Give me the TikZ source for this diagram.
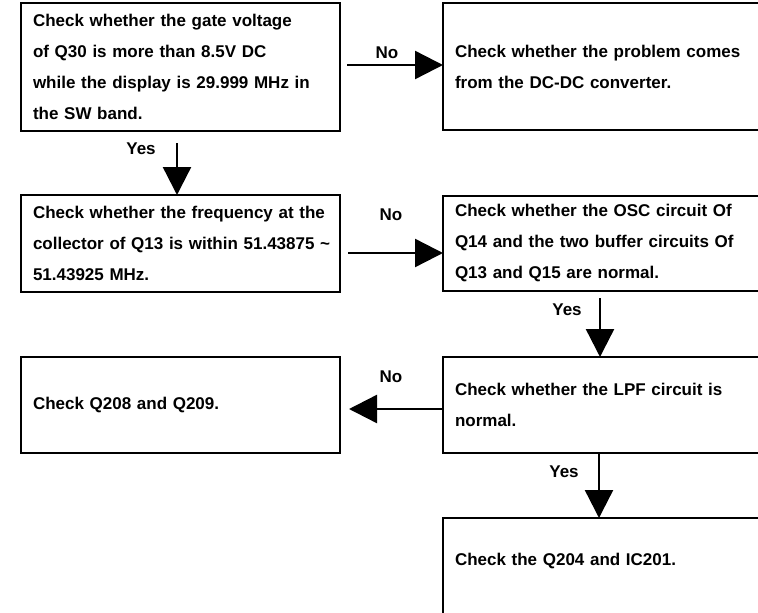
\documentclass[tikz,border=0pt]{standalone}
\usepackage{fontspec}
\setmainfont{Liberation Sans}
\usetikzlibrary{arrows.meta,calc}
\tikzset{
  box/.style={draw, line width=2.4pt, rectangle, outer sep=0pt, inner ysep=0pt,
    anchor=north west, align=left, font=\fontsize{17}{31}\selectfont\bfseries},
  lbox/.style={box, inner xsep=12pt, text width=295pt, minimum width=319pt},
  rbox/.style={box, inner xsep=12pt, text width=308pt, minimum width=332pt},
  lbl/.style={font=\fontsize{17}{20}\selectfont\bfseries, inner sep=0pt},
  arr/.style={line width=2.4pt, -{Triangle[length=28pt,width=28pt]}}
}
\begin{document}
\begin{tikzpicture}[x=1pt,y=-1pt]
\useasboundingbox (0,0) rectangle (758,613);
\fill[white] (0,0) rectangle (758,613);
\clip (0,0) rectangle (758,613);

\node[lbox, minimum height=128pt] (b1) at (21,3)
  {Check whether the gate voltage\\of Q30 is more than 8.5V DC\\while the display is 29.999 MHz in\\the SW band.};
\node[rbox, minimum height=127pt] (b2) at (443,3)
  {Check whether the problem comes\\from the DC-DC converter.};
\node[lbox, minimum height=97pt] (b3) at (21,195)
  {Check whether the frequency at the\\\mbox{collector of Q13 is within 51.43875 \textasciitilde}\\51.43925 MHz.};
\node[rbox, minimum height=95pt] (b4) at (443,196)
  {Check whether the OSC circuit Of\\Q14 and the two buffer circuits Of\\Q13 and Q15 are normal.};
\node[rbox, minimum height=96pt] (b5) at (443,357)
  {Check whether the LPF circuit is\\normal.};
\node[lbox, minimum height=96pt] (b6) at (21,357)
  {Check Q208 and Q209.};
\node[rbox, text height=47pt, text depth=80pt] (b7) at (443,518)
  {Check the Q204 and IC201.};

% labels
\node[lbl] (no1) at (387,53) {No};
\node[lbl] (no2) at (391,215) {No};
\node[lbl] (no3) at (391,377) {No};
\node[lbl] (yes1) at (141,149) {Yes};
\node[lbl] (yes2) at (567,310) {Yes};
\node[lbl] (yes3) at (564,472) {Yes};

% connector start points
\path ($(b1.east)+(7,-2)$) coordinate (s1);
\path ($(b3.east)+(8,9.5)$) coordinate (s2);
\path ($(b5.west)+(0,4)$) coordinate (s3);
\path ($(b1.south)+(-3.5,12)$) coordinate (s4);
\path ($(b4.south west)+(157,7)$) coordinate (s5);
\path ($(b5.south west)+(156,0)$) coordinate (s6);

% connectors
\draw[arr] (s1) -- (s1 -| b2.west);
\draw[arr] (s2) -- (s2 -| b4.west);
\draw[arr] (s3) -- ($(s3 -| b6.east)+(9,0)$);
\draw[arr] (s4) -- (s4 |- b3.north);
\draw[arr] (s5) -- (s5 |- b5.north);
\draw[arr] (s6) -- (s6 |- b7.north);
\end{tikzpicture}
\end{document}
